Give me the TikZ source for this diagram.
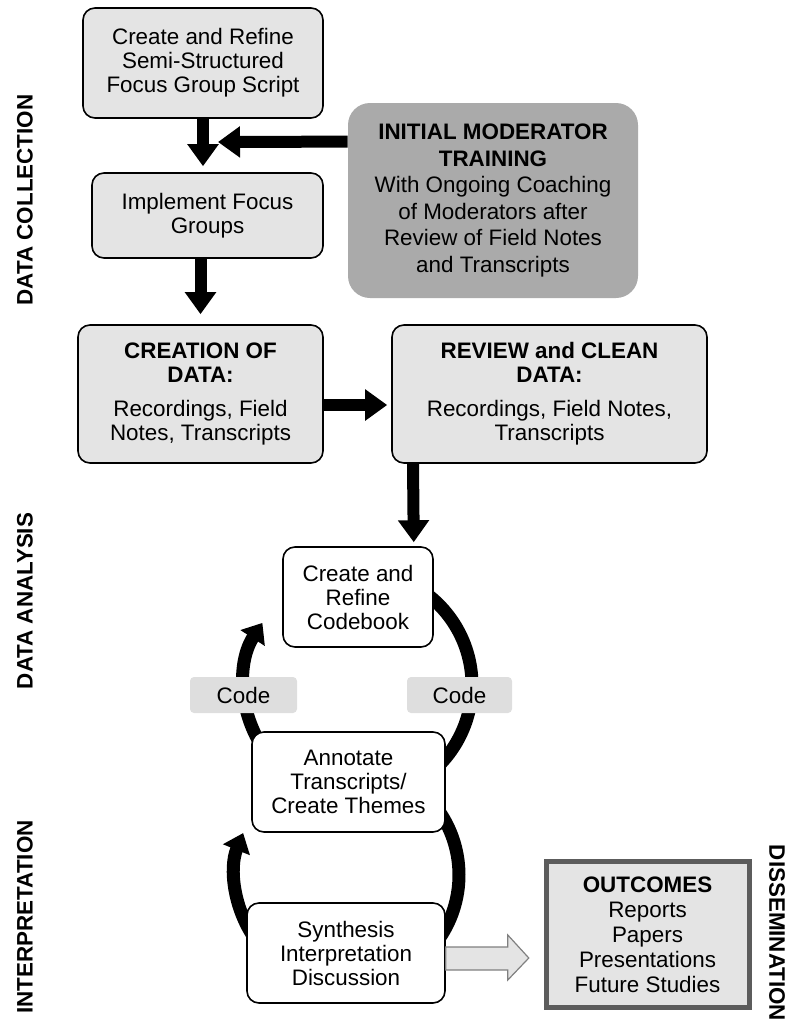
\documentclass[tikz,border=0pt]{standalone}
\usepackage{fontspec}
\setmainfont{Liberation Sans}
\usetikzlibrary{arrows.meta,positioning}
\definecolor{boxgrey}{HTML}{E4E4E4}
\definecolor{traingrey}{HTML}{AAAAAA}
\definecolor{codegrey}{HTML}{DEDEDE}
\definecolor{rimgrey}{HTML}{5C5C5C}
\tikzset{every node/.style={align=center, inner sep=0pt, font=\fontsize{11.2}{12}\selectfont},
  stepbox/.style={draw, line width=0.8pt, fill=boxgrey, rounded corners=6pt},
  whitebox/.style={draw, line width=0.8pt, fill=white, rounded corners=6pt, minimum height=50pt},
  trainbox/.style={fill=traingrey, rounded corners=11pt, font=\fontsize{11.2}{13.3}\selectfont},
  codetag/.style={fill=codegrey, rounded corners=2pt, minimum height=18pt},
  outbox/.style={draw=rimgrey, line width=2.5pt, fill=boxgrey, font=\fontsize{11.2}{12.5}\selectfont},
  phase/.style={font=\fontsize{11.2}{12}\selectfont\bfseries},
  bigarrow/.style={line width=6pt, -{Triangle[length=11pt,width=15pt]}},
  cyclearrow/.style={line width=6.5pt},
  cyclehead/.style={cyclearrow, -{Triangle[length=9pt,width=14pt]}},
  greyarrow/.style={draw=gray, line width=0.6pt, fill=boxgrey}}

\begin{document}
\begin{tikzpicture}[x=0.5pt,y=0.5pt]
  \useasboundingbox (0,0) rectangle (788,-1024);
  % cycle centres
  \coordinate (loopA) at (358,-685);
  \coordinate (loopB) at (347,-875);
  \draw[cyclehead] ([shift={(215:114)}]loopA) arc[start angle=215, end angle=147, radius=114];
  \draw[cyclearrow] ([shift={(60:114)}]loopA) arc[start angle=60, end angle=-50, radius=114];
  \draw[cyclehead] ([shift={(215:112)}]loopB) arc[start angle=215, end angle=158, radius=112];
  \draw[cyclearrow] ([shift={(40:112)}]loopB) arc[start angle=40, end angle=-35, radius=112];

  % data collection
  \node[stepbox, minimum width=120pt, minimum height=55pt] (script) at (203,-63)
    {Create and Refine\\Semi-Structured\\Focus Group Script};
  \node[stepbox, minimum width=115.5pt, minimum height=42.5pt] (groups) at (207.5,-215.5)
    {Implement Focus\\Groups};
  \node[trainbox, minimum width=145pt, minimum height=97.5pt] (train) at (493,-200.5)
    {\textbf{INITIAL MODERATOR}\\\textbf{TRAINING}\\With Ongoing Coaching\\of Moderators after\\Review of Field Notes\\and Transcripts};
  \node[stepbox, minimum width=122.5pt, minimum height=69pt] (create) at (200.5,-394)
    {\textbf{CREATION OF}\\\textbf{DATA:}\\[5pt]Recordings, Field\\Notes, Transcripts};
  \node[stepbox, minimum width=157.5pt, minimum height=69pt] (review) at (549.5,-394)
    {\textbf{REVIEW and CLEAN}\\\textbf{DATA:}\\[5pt]Recordings, Field Notes,\\Transcripts};

  % data analysis
  \node[whitebox, minimum width=75pt] (codebook) at (358,-597)
    {Create and\\Refine\\Codebook};
  \node[codetag, minimum width=53.5pt] (codeL) at (243.5,-695) {Code};
  \node[codetag, minimum width=52.5pt] (codeR) at (459.5,-695) {Code};
  \node[whitebox, minimum width=96.5pt] (annot) at (348.5,-782)
    {Annotate\\Transcripts/\\Create Themes};
  \node[whitebox, minimum width=99pt] (synth) at (346,-953)
    {Synthesis\\Interpretation\\Discussion};
  \node[outbox, minimum width=101.5pt, minimum height=73pt] (outcome) at (647.5,-934.5)
    {\textbf{OUTCOMES}\\Reports\\Papers\\Presentations\\Future Studies};

  % phase labels
  \node[phase, rotate=90] (collect) at (25,-200) {DATA COLLECTION};
  \node[phase, rotate=90] (analysis) at (25,-601) {DATA ANALYSIS};
  \node[phase, rotate=90] (interp) at (25,-917) {INTERPRETATION};
  \node[phase, rotate=-90] (dissem) at (777,-933) {DISSEMINATION};

  % flow arrows
  \coordinate (join) at (218,-142);
  \draw[bigarrow, shorten >=3pt] (script.south) -- (script.south |- groups.north);
  \draw[bigarrow] ([yshift=-19.5pt]train.north west) -- (join);
  \draw[bigarrow, shorten >=5pt] (groups.south -| create.north) -- (create.north);
  \draw[bigarrow, shorten >=2pt] ([yshift=-5.5pt]create.east) -- ([yshift=-5.5pt]review.west);
  \draw[bigarrow, shorten >=2pt] (review.south -| 413,0) -- ([xshift=-10pt]codebook.north east);
  \draw[greyarrow] ([yshift=3pt]synth.east) -- ++(62,0) -- ++(0,12) -- ++(21,-23)
    -- ++(-21,-22) -- ++(0,10) -- ++(-62,0) -- cycle;
\end{tikzpicture}
\end{document}
